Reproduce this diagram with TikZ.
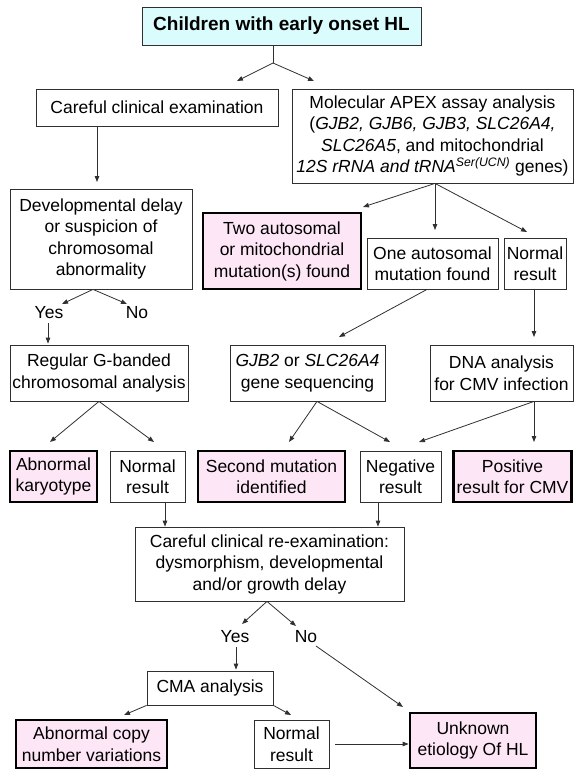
\documentclass[tikz,border=0pt]{standalone}
\usepackage{fontspec}
\setmainfont{Liberation Sans}
\usetikzlibrary{arrows.meta}
\definecolor{pinkfill}{HTML}{FDE6F6}
\definecolor{cyanfill}{HTML}{DAFCFC}
\definecolor{linegray}{HTML}{303030}
\begin{document}
\begin{tikzpicture}[x=1pt,y=-1pt,
  box/.style={draw=linegray, line width=0.8pt, fill=white, align=center, inner sep=0pt, font=\fontsize{17.5}{21.5}\selectfont},
  res/.style={box, draw=black, line width=2.8pt, fill=pinkfill},
  lbl/.style={inner sep=0pt, font=\fontsize{17.5}{21.5}\selectfont},
  ln/.style={draw=linegray, line width=0.8pt},
  arr/.style={ln, -{Triangle[length=6pt,width=4.5pt]}}]
\useasboundingbox (0,0) rectangle (574,771);
\fill[white] (0,0) rectangle (574,771);

% nodes
\node[box, fill=cyanfill, font=\fontsize{19}{23}\selectfont\bfseries, minimum width=279, minimum height=38] (top) at (281.5,26) {Children with early onset HL};
\node[box, minimum width=242, minimum height=37] (careful) at (157,107.5) {Careful clinical examination};
\node[box, minimum width=281, minimum height=94] (mol) at (432.5,136) {Molecular APEX assay analysis\\(\textit{GJB2, GJB6, GJB3, SLC26A4,}\\\textit{SLC26A5}, and mitochondrial\\\textit{12S rRNA and tRNA}\textsuperscript{\textit{Ser(UCN)}} genes)};
\node[box, minimum width=182, minimum height=100] (dev) at (101,239) {Developmental delay\\or suspicion of\\chromosomal\\abnormality};
\node[res, minimum width=158, minimum height=76] (two) at (282,251) {Two autosomal\\or mitochondrial\\mutation(s) found};
\node[box, minimum width=131, minimum height=51] (one) at (432.5,263.5) {One autosomal\\mutation found};
\node[box, minimum width=62, minimum height=51] (nr1) at (535,263.5) {Normal\\result};
\node[lbl] (yes1) at (49,313) {Yes};
\node[lbl] (no1) at (137,313) {No};
\node[box, minimum width=178, minimum height=56] (reg) at (99,373) {Regular G-banded\\chromosomal analysis};
\node[box, minimum width=155, minimum height=56] (gjb) at (307.5,373) {\textit{GJB2} or \textit{SLC26A4}\\gene sequencing};
\node[box, minimum width=143, minimum height=56] (dna) at (501.5,373) {DNA analysis\\for CMV infection};
\node[res, minimum width=87, minimum height=51] (abk) at (53.5,476.5) {Abnormal\\karyotype};
\node[box, minimum width=75, minimum height=51] (nr2) at (147.5,476.5) {Normal\\result};
\node[res, minimum width=147, minimum height=51] (sec) at (271.5,476.5) {Second mutation\\identified};
\node[box, minimum width=81, minimum height=51] (neg) at (400.5,476.5) {Negative\\result};
\node[res, minimum width=118, minimum height=51] (pos) at (512.5,476.5) {Positive\\result for CMV};
\node[box, minimum width=269, minimum height=74] (rex) at (269.5,564) {Careful clinical re-examination:\\dysmorphism, developmental\\and/or growth delay};
\node[lbl] (yes2) at (235,637) {Yes};
\node[lbl] (no2) at (306,637) {No};
\node[box, minimum width=126, minimum height=34] (cma) at (210,688) {CMA analysis};
\node[res, minimum width=151, minimum height=48] (cnv) at (91.5,744) {Abnormal copy\\number variations};
\node[box, minimum width=75, minimum height=48] (nr3) at (291.5,744) {Normal\\result};
\node[res, minimum width=126, minimum height=55] (unk) at (473,740.5) {Unknown\\etiology Of HL};

% helper coordinates
\coordinate (s1) at (273,63);
\coordinate (t1) at (237,81);
\coordinate (t2) at (314,81);
\coordinate (t3) at (97,182);
\coordinate (t4) at (363,207);
\coordinate (t5) at (435,230);
\coordinate (t6) at (527,232);
\coordinate (s3) at (93,289);
\coordinate (t7) at (62,304);
\coordinate (t8) at (127,304);
\coordinate (x48) at (48,0);
\coordinate (t9) at (50,442);
\coordinate (t10) at (154,442);
\coordinate (s5) at (317,401);
\coordinate (t11) at (289,442);
\coordinate (t12) at (390,442);
\coordinate (x427) at (427,0);
\coordinate (t13) at (339,337);
\coordinate (t14) at (534,337);
\coordinate (s6) at (534,401);
\coordinate (t15) at (419,442);
\coordinate (t16) at (534,442);
\coordinate (x165) at (165,0);
\coordinate (x378) at (378,0);
\coordinate (s7) at (267,601);
\coordinate (t17) at (242,624);
\coordinate (t18) at (296,626);
\coordinate (x236) at (236,0);
\coordinate (t19) at (124,715);
\coordinate (t20) at (291,715);
\coordinate (n2a) at (316,646);
\coordinate (t21) at (403,707);

% connectors
\draw[ln] (top.south -| s1) -- (s1);
\draw[arr] (s1) -- (t1);
\draw[arr] (s1) -- (t2);
\draw[arr] (careful.south -| t3) -- (t3);
\draw[arr] (mol.south -| t5) -- (t4);
\draw[arr] (mol.south -| t5) -- (t5);
\draw[arr] (mol.south -| t5) -- (t6);
\draw[arr] (dev.south -| s3) -- (t7);
\draw[arr] (dev.south -| s3) -- (t8);
\draw[arr] ([yshift=-4pt]yes1.south -| x48) -- ([yshift=1pt]reg.north -| x48);
\draw[arr] (one.south -| x427) -- (t13);
\draw[arr] (nr1.south -| t14) -- (t14);
\draw[arr] (reg.south) -- (t9);
\draw[arr] (reg.south) -- (t10);
\draw[arr] (gjb.south -| s5) -- (t11);
\draw[arr] (gjb.south -| s5) -- (t12);
\draw[arr] (dna.south -| s6) -- (t15);
\draw[arr] (dna.south -| s6) -- (t16);
\draw[arr] (nr2.south -| x165) -- (rex.north -| x165);
\draw[arr] (neg.south -| x378) -- (rex.north -| x378);
\draw[arr] (rex.south -| s7) -- (t17);
\draw[arr] (rex.south -| s7) -- (t18);
\draw[arr] ([yshift=-4pt]yes2.south -| x236) -- ([yshift=1pt]cma.north -| x236);
\draw[arr] (cma.south west) -- (t19);
\draw[arr] (cma.south east) -- (t20);
\draw[arr] (n2a) -- (t21);
\draw[arr] ([xshift=6pt]nr3.east) -- (unk.west |- nr3.east);
\end{tikzpicture}
\end{document}
